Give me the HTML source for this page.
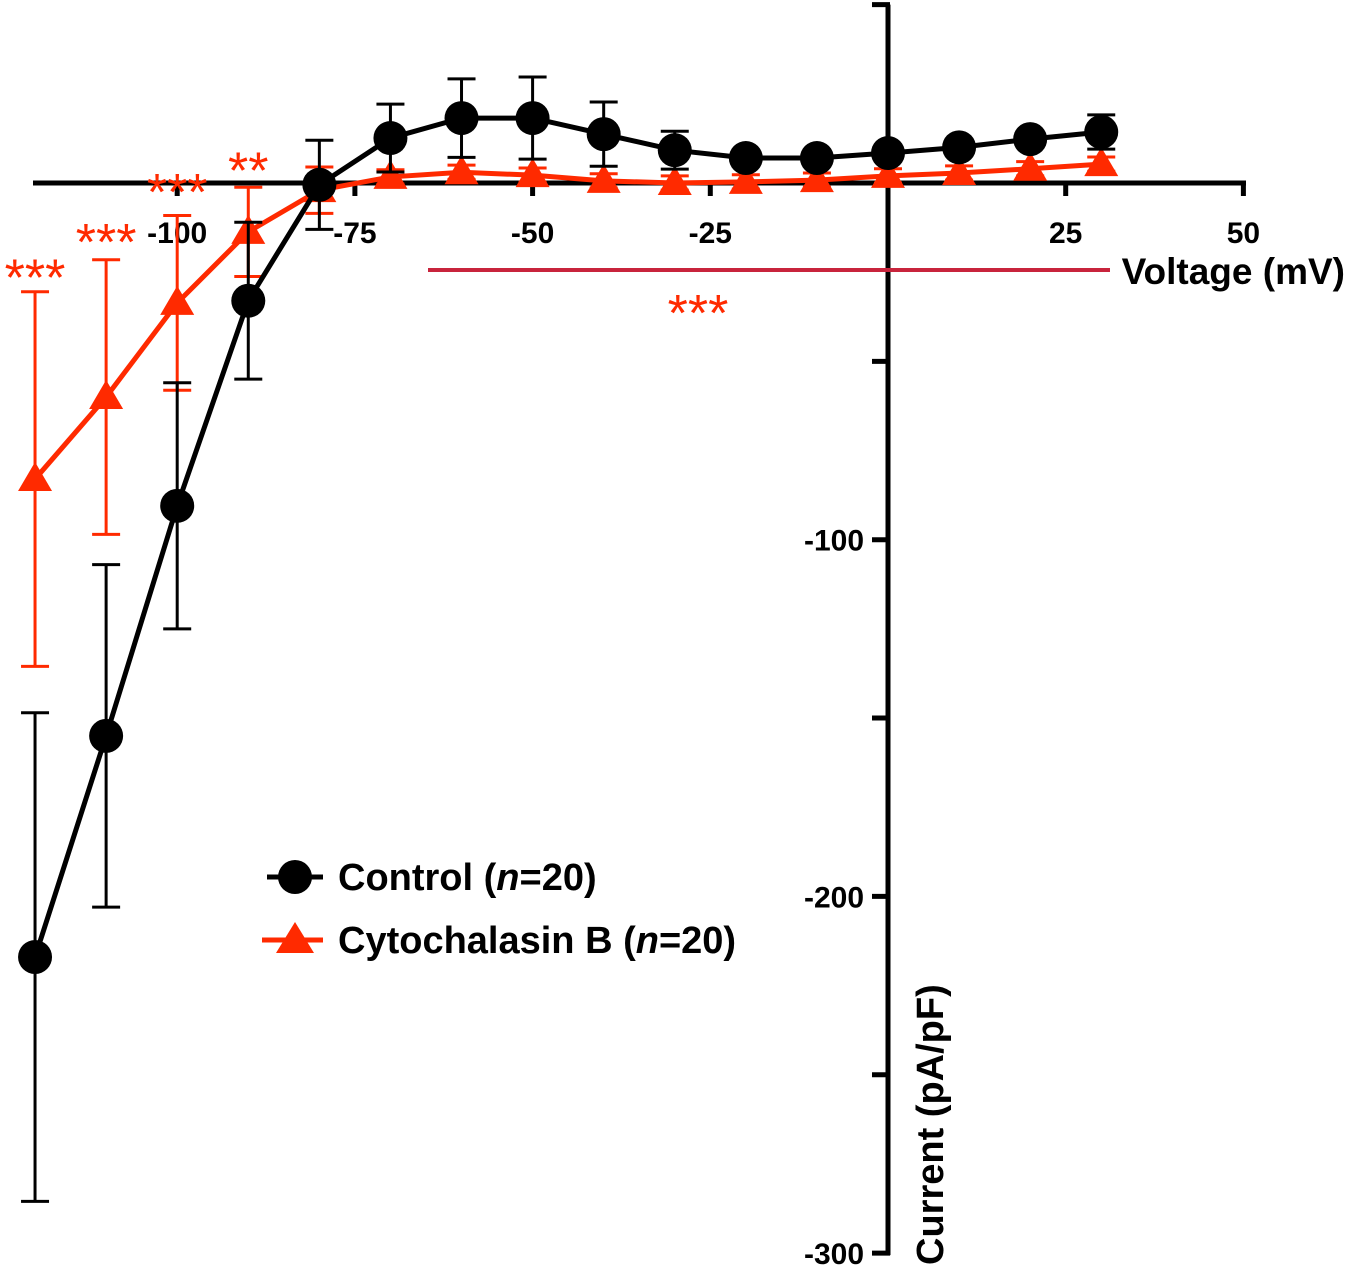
<!DOCTYPE html>
<html><head><meta charset="utf-8"><style>
html,body{margin:0;padding:0;background:#fff;}
svg{display:block;font-family:"Liberation Sans",Arial,sans-serif;font-weight:bold;}
</style></head><body>
<svg id="chart" width="1350" height="1269" viewBox="0 0 1350 1269"></svg>
<script>
const voltages=[-120,-110,-100,-90,-80,-70,-60,-50,-40,-30,-20,-10,0,10,20,30];
const controlMean=[-217,-155,-90.5,-33,-0.5,12.6,18.2,18.2,13.7,9.2,7,7,8.4,10,12.3,14.3];
const controlErr=[68.5,48,34.5,22,12.5,9.5,11,11.5,9,5.3,2,2,2,2,2,4.8];
const cytoMean=[-83,-60,-33.6,-13.7,-2,1.7,3,2.2,0.6,0,0.3,0.8,2,2.8,4,5.3];
const cytoErr=[52.5,38.5,24.5,12.5,6.5,2,2,2,2,2,2,2,2,2,2,2];
const xTicks=[-100,-75,-50,-25,25,50];
const yTicks=[50,0,-50,-100,-150,-200,-250,-300];
const yTickLabels=[-100,-200,-300];
const sigVolt=[-120,-110,-100,-90];
const sigLabel=["***","***","***","**"];
const sigY=[-24,-14,0,6];

const NS="http://www.w3.org/2000/svg";
const svg=document.getElementById('chart');
const X=v=>888+v*7.108;
const Y=i=>183-i*3.567;
function el(t,a,p){const e=document.createElementNS(NS,t);for(const k in a)e.setAttribute(k,a[k]);(p||svg).appendChild(e);return e;}
const BLACK="#000",RED="#ff2a00";

let g=el('g',{});


el('line',{x1:33,y1:183,x2:1246,y2:183,stroke:BLACK,'stroke-width':5},g);
xTicks.forEach(v=>{
  el('line',{x1:X(v),y1:183,x2:X(v),y2:196,stroke:BLACK,'stroke-width':5},g);
  const t=el('text',{x:X(v),y:243,'text-anchor':'middle','font-size':30},g);
  t.textContent=v;
  
  
});
let xt=el('text',{x:1345,y:284,'text-anchor':'end','font-size':37});
xt.textContent='Voltage (mV)';



let gy=el('g',{});


el('line',{x1:888,y1:Y(50),x2:888,y2:Y(-300)+2,stroke:BLACK,'stroke-width':5},gy);
yTicks.forEach(v=>{el('line',{x1:872,y1:Y(v),x2:890,y2:Y(v),stroke:BLACK,'stroke-width':5},gy);});
yTickLabels.forEach(v=>{
  const t=el('text',{x:864,y:Y(v)+11,'text-anchor':'end','font-size':30},gy);
  t.textContent=v;
  
  
});
let yt=el('text',{x:0,y:0,'font-size':38,transform:'translate(943,1265) rotate(-90)'});
yt.textContent='Current (pA/pF)';



function series(mean,err,color,marker,name){
  const gs=el('g',{});
  
  
  voltages.forEach((v,i)=>{
    const x=X(v),y1=Y(mean[i]+err[i]),y2=Y(mean[i]-err[i]);
    el('line',{x1:x,y1:y1,x2:x,y2:y2,stroke:color,'stroke-width':3},gs);
    el('line',{x1:x-14,y1:y1,x2:x+14,y2:y1,stroke:color,'stroke-width':3},gs);
    el('line',{x1:x-14,y1:y2,x2:x+14,y2:y2,stroke:color,'stroke-width':3},gs);
  });
  el('polyline',{points:voltages.map((v,i)=>X(v)+','+Y(mean[i])).join(' '),fill:'none',stroke:color,'stroke-width':5},gs);
  voltages.forEach((v,i)=>{
    const x=X(v),y=Y(mean[i]);
    let m;
    if(marker==='c') m=el('circle',{cx:x,cy:y,r:17,fill:color},gs);
    else m=el('polygon',{points:`${x},${y-17} ${x-17},${y+12} ${x+17},${y+12}`,fill:color},gs);
    
    
  });
}
series(cytoMean,cytoErr,RED,'t','cytochalasin-series');
series(controlMean,controlErr,BLACK,'c','control-series');

sigVolt.forEach((v,i)=>{
  const t=el('text',{x:X(v),y:Y(sigY[i])+27,'text-anchor':'middle','font-size':52,fill:RED,'font-weight':'normal'});
  t.textContent=sigLabel[i];
  
  
});
let sl=el('line',{x1:428,y1:270,x2:1110,y2:270,stroke:'#c8243c','stroke-width':4});


let st=el('text',{x:698,y:331,'text-anchor':'middle','font-size':52,fill:RED,'font-weight':'normal'});
st.textContent='***';



let lg=el('g',{});


let l1=el('g',{},lg);


el('line',{x1:267,y1:877,x2:323,y2:877,stroke:BLACK,'stroke-width':5},l1);
el('circle',{cx:295,cy:877,r:17,fill:BLACK},l1);
let t1=el('text',{x:338,y:890,'font-size':38},l1);
t1.innerHTML='Control (<tspan font-style="italic">n</tspan>=20)';
let l2=el('g',{},lg);


el('line',{x1:262,y1:940,x2:323,y2:940,stroke:RED,'stroke-width':5},l2);
el('polygon',{points:'295,922 276,953 314,953',fill:RED},l2);
let t2=el('text',{x:338,y:953,'font-size':38},l2);
t2.innerHTML='Cytochalasin B (<tspan font-style="italic">n</tspan>=20)';
</script>
</body></html>
